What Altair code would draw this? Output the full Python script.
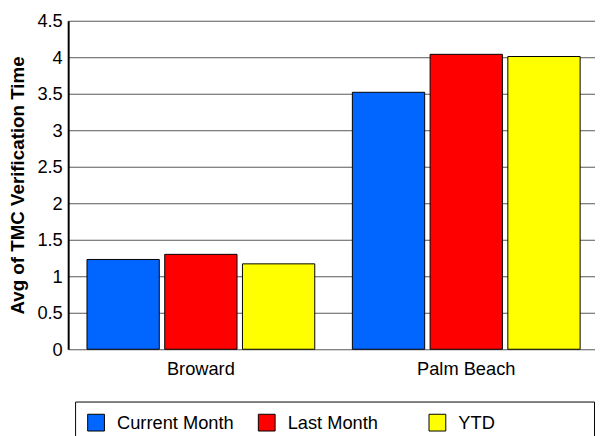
import altair as alt
import pandas as pd

categories = ["Broward", "Palm Beach"]
series = ["Current Month", "Last Month", "YTD"]
current_month = [1.23, 3.52]
last_month = [1.30, 4.04]
ytd = [1.17, 4.01]
colors = ["#0066FF", "#FF0000", "#FFFF00"]
y_ticks = [0, 0.5, 1, 1.5, 2, 2.5, 3, 3.5, 4, 4.5]

rows = []
for i, c in enumerate(categories):
    for s, vals in zip(series, [current_month, last_month, ytd]):
        rows.append({"Region": c, "Series": s, "Value": vals[i]})
df = pd.DataFrame(rows)

FONT = "Liberation Sans"
FS = 18.5

chart = alt.Chart(df).mark_bar(stroke="black", strokeWidth=1).encode(
    x=alt.X("Region:N", sort=categories, title=None,
            scale=alt.Scale(paddingInner=0, paddingOuter=0, range=[0, 538]),
            axis=alt.Axis(labelAngle=0, ticks=False, labelPadding=11, labelFontSize=FS,
                          labelFont=FONT, labelColor="black", domain=False, grid=False)),
    xOffset=alt.XOffset("Series:N", sort=series,
                        scale=alt.Scale(paddingInner=0.07, paddingOuter=0.242)),
    y=alt.Y("Value:Q", title="Avg of TMC Verification Time",
            scale=alt.Scale(domain=[0, 4.5], nice=False),
            axis=alt.Axis(values=y_ticks, format=".1~f", ticks=False, labelPadding=6,
                          labelFontSize=FS, labelFont=FONT, labelColor="black",
                          titleFont=FONT, titleFontSize=19, titleFontWeight="bold",
                          titleColor="black", titlePadding=10,
                          domainColor="black", domainWidth=2,
                          gridColor="#555555", gridWidth=1, gridOpacity=1)),
    color=alt.Color("Series:N", sort=series,
                    scale=alt.Scale(domain=series, range=colors),
                    legend=alt.Legend(title=" ", titleOrient="right", titlePadding=88,
                                      titleFontSize=FS,
                                      orient="none", legendX=7, legendY=386,
                                      direction="horizontal", columns=3, gridAlign="all",
                                      columnPadding=22, symbolType="square", symbolSize=289,
                                      symbolStrokeColor="black", symbolStrokeWidth=1,
                                      symbolOffset=0, labelOffset=12,
                                      labelFontSize=FS, labelFont=FONT, labelColor="black",
                                      labelLimit=300, padding=12,
                                      strokeColor="black", fillColor="white")),
).properties(
    width=534, height=333,
    padding={"left": 61, "top": 10, "right": 0, "bottom": 85},
    autosize=alt.AutoSizeParams(type="none"),
).configure_view(strokeWidth=0).configure_axisX(
    domain=True, domainColor="black", domainWidth=2
)

chart.save("out.html", embed_options={"renderer": "svg", "actions": False})
